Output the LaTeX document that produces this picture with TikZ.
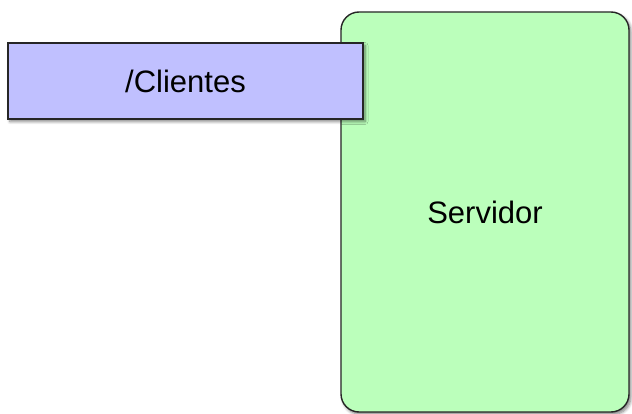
\documentclass[tikz,border=0pt]{standalone}
\usepackage{fontspec}
\setmainfont{Liberation Sans}
\usetikzlibrary{shadows.blur}
\definecolor{boxgreen}{HTML}{BBFFBB}
\definecolor{boxblue}{HTML}{C0C0FF}
\begin{document}
\begin{tikzpicture}[x=1pt,y=-1pt,
  box/.style={draw=black!85, line width=1.4pt,
    blur shadow={shadow xshift=2pt, shadow yshift=-2.5pt, shadow blur steps=6, shadow blur radius=3pt, shadow opacity=50},
    font=\fontsize{31}{36}\selectfont}]
\useasboundingbox (0,0) rectangle (632,414);
\clip (0,0) rectangle (632,414);
\node[box, fill=boxgreen, rounded corners=18pt, minimum width=288pt, minimum height=400pt, inner sep=0pt] (server) at (485,212) {Servidor};
\node[box, fill=boxblue, minimum width=355pt, minimum height=76pt, inner sep=0pt] (clients) at (185.5,81) {/Clientes};
\end{tikzpicture}
\end{document}
